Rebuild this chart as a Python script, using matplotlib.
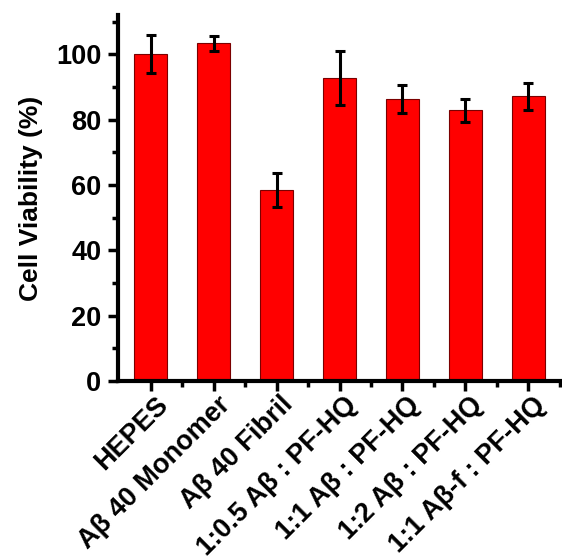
import matplotlib
matplotlib.use("Agg")
import matplotlib.pyplot as plt
from matplotlib.ticker import MultipleLocator
from matplotlib.transforms import ScaledTranslation
import numpy as np

categories = ["HEPES", "Aβ 40 Monomer", "Aβ 40 Fibril", "1:0.5 Aβ : PF-HQ",
              "1:1 Aβ : PF-HQ", "1:2 Aβ : PF-HQ", "1:1 Aβ-f : PF-HQ"]
values = [100.1, 103.4, 58.6, 92.8, 86.2, 82.8, 87.1]
errors = [5.7, 2.3, 5.2, 8.3, 4.3, 3.4, 4.1]

plt.rcParams['font.family'] = ['Liberation Sans', 'DejaVu Sans']
plt.rcParams['font.weight'] = 'bold'

fig = plt.figure(figsize=(5.62, 5.57), dpi=100)
ax = fig.add_axes([0.21, 0.316, 0.786, 0.657])
x = np.arange(len(categories))
ax.bar(x, values, width=0.52, color='#ff0000', edgecolor='#7a0000', linewidth=0.8,
       yerr=errors, capsize=3.5,
       error_kw=dict(ecolor='black', elinewidth=2.2, capthick=2.2), zorder=2)

ax.set_xlim(-0.52, 6.4)
ax.set_ylim(0, 112)
ax.set_xticks(x)
ax.set_xticklabels([])
offset = ScaledTranslation(13 / 100, -20 / 100, fig.dpi_scale_trans)
for xi, name in zip(x, categories):
    ax.text(xi, 0, name, transform=ax.get_xaxis_transform() + offset,
            rotation=45, ha='right', va='center', rotation_mode='anchor',
            fontsize=19.5, fontweight='bold', clip_on=False)
ax.set_xticks(x + 0.5, minor=True)
ax.yaxis.set_major_locator(MultipleLocator(20))
ax.yaxis.set_minor_locator(MultipleLocator(10))
ax.tick_params(axis='y', labelsize=19.5, pad=5)
for lab in ax.get_yticklabels():
    lab.set_fontweight('bold')
ax.tick_params(which='major', direction='out', length=7, width=2.5)
ax.tick_params(which='minor', direction='out', length=4, width=2.5)
ax.set_ylabel("Cell Viability (%)", fontsize=19, fontweight='bold', labelpad=9)
for s in ['top', 'right']:
    ax.spines[s].set_visible(False)
for s in ['left', 'bottom']:
    ax.spines[s].set_linewidth(3)

fig.savefig("out.png", dpi=100)
